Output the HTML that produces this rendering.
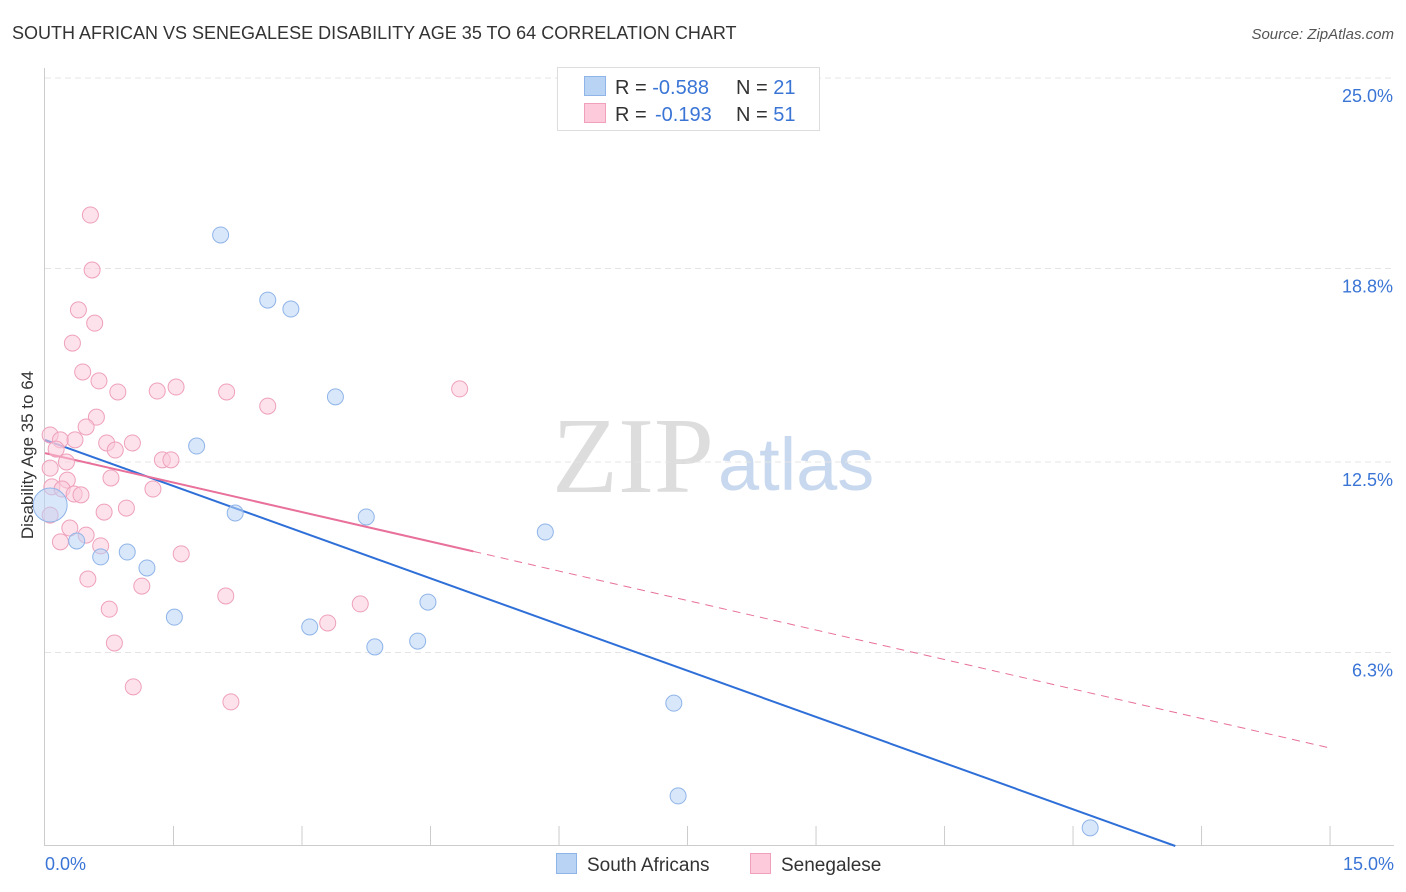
<!DOCTYPE html>
<html><head><meta charset="utf-8"><style>
body{margin:0;background:#fff;font-family:"Liberation Sans",sans-serif;}
svg{display:block}
</style></head><body>
<svg id="chart" width="1406" height="892" xmlns="http://www.w3.org/2000/svg">
<text x="12" y="39" font-size="18" fill="#333">SOUTH AFRICAN VS SENEGALESE DISABILITY AGE 35 TO 64 CORRELATION CHART</text>
<text x="1394" y="39" font-size="15" fill="#555" font-style="italic" text-anchor="end">Source: ZipAtlas.com</text>
<text x="714" y="492" font-size="108" fill="#ddd" text-anchor="end" font-family="Liberation Serif,serif">ZIP</text>
<text x="718" y="490" font-size="74" fill="#c8d8ee">atlas</text>
<g id="grid"></g><g id="axes"></g><g id="lines"></g><g id="pts"></g>
<text transform="translate(33,455) rotate(-90)" font-size="17" fill="#333" text-anchor="middle">Disability Age 35 to 64</text>
<g>
<rect x="557.5" y="67.5" width="262" height="63" fill="#fff" stroke="#ddd"/>
<rect x="584.5" y="76.5" width="21" height="19" fill="#b9d3f5" stroke="#8fb4e8"/>
<rect x="584.5" y="103.5" width="21" height="19" fill="#fccadb" stroke="#f0a0bb"/>
<text x="615" y="94" font-size="20" fill="#333">R = <tspan fill="#3a75d6">-0.588</tspan><tspan x="736">N = </tspan><tspan fill="#3a75d6">21</tspan></text>
<text x="615" y="121" font-size="20" fill="#333">R = <tspan x="655" fill="#3a75d6">-0.193</tspan><tspan x="736">N = </tspan><tspan fill="#3a75d6">51</tspan></text>
</g>
<g>
<rect x="556.5" y="853.5" width="20" height="20" fill="#b9d3f5" stroke="#8fb4e8"/>
<text x="587" y="871" font-size="19" fill="#333">South Africans</text>
<rect x="750.5" y="853.5" width="20" height="20" fill="#fccadb" stroke="#f0a0bb"/>
<text x="781" y="871" font-size="19" fill="#333">Senegalese</text>
</g>
</svg>
<script>
const yTicks=[25.0,18.8,12.5,6.3];
const yTickLabels=["25.0%","18.8%","12.5%","6.3%"];
const xTickLabels=["0.0%","15.0%"];
const blueX=[2.05,2.60,2.87,3.39,1.77,2.22,3.75,5.84,0.37,0.96,0.65,1.19,1.51,3.09,3.85,4.35,4.47,7.34,7.39,12.20,0.06];
const blueY=[19.89,17.77,17.48,14.62,13.02,10.84,10.71,10.22,9.93,9.57,9.41,9.05,7.45,7.13,6.48,6.67,7.94,4.65,1.63,0.59,11.10];
const pinkX=[0.53,0.55,0.39,0.58,0.32,0.44,0.63,0.85,1.31,1.53,2.12,2.60,4.84,0.60,0.48,0.06,0.18,0.35,0.72,1.02,0.82,0.13,0.25,1.37,1.47,0.06,0.77,0.26,0.08,0.20,0.34,0.42,1.26,0.95,0.69,0.06,0.29,0.48,0.18,0.65,1.59,0.50,1.13,2.11,0.75,3.68,3.30,0.81,1.03,2.17];
const pinkY=[20.54,18.75,17.45,17.02,16.37,15.43,15.14,14.78,14.81,14.94,14.78,14.32,14.88,13.96,13.64,13.38,13.22,13.22,13.12,13.12,12.89,12.92,12.50,12.57,12.57,12.30,11.98,11.91,11.69,11.62,11.46,11.43,11.62,11.00,10.87,10.77,10.35,10.12,9.90,9.77,9.51,8.69,8.46,8.14,7.71,7.88,7.26,6.61,5.18,4.69];
const blueTrend=[13.22,-1.81];
const pinkTrend=[12.79,3.19];
const pinkSolidEnd=5.0;
const NS="http://www.w3.org/2000/svg";
const xs=v=>45+v*85.67, ys=v=>462-(v-12.5)*30.72;
function mk(tag,attrs,parent){const e=document.createElementNS(NS,tag);for(const k in attrs)e.setAttribute(k,attrs[k]);document.getElementById(parent).appendChild(e);return e;}
yTicks.forEach((t,i)=>{
 const g=mk('line',{x1:45,x2:1394,y1:ys(t),y2:ys(t),stroke:'#e4e4e4','stroke-dasharray':'6,4'},'grid');
 
 
 const l=mk('text',{x:1393,y:ys(t)+24,'font-size':18,fill:'#3a75d6','text-anchor':'end'},'axes');
 l.textContent=yTickLabels[i];
 
 
});
mk('line',{x1:44.5,x2:44.5,y1:68,y2:846,stroke:'#ccc'},'axes');
mk('line',{x1:44,x2:1394,y1:845.5,y2:845.5,stroke:'#ccc'},'axes');
for(let i=1;i<=10;i++){const t=mk('line',{x1:xs(i*1.5),x2:xs(i*1.5),y1:826,y2:846,stroke:'#ccc'},'axes');
 
 }
[[0,45,'start'],[15,1394,'end']].forEach((a,i)=>{const l=mk('text',{x:a[1],y:870,'font-size':18,fill:'#3a75d6','text-anchor':a[2]},'axes');l.textContent=xTickLabels[i];
 
 });
const slopeB=(blueTrend[1]-blueTrend[0])/15, x0=-blueTrend[0]/slopeB;
const bl=mk('line',{x1:xs(0),y1:ys(blueTrend[0]),x2:xs(x0),y2:ys(0),stroke:'#2f6fd8','stroke-width':2},'lines');


const pf=v=>pinkTrend[0]+(pinkTrend[1]-pinkTrend[0])*v/15;
const pl=mk('line',{x1:xs(0),y1:ys(pf(0)),x2:xs(pinkSolidEnd),y2:ys(pf(pinkSolidEnd)),stroke:'#e8709a','stroke-width':2},'lines');


const pd=mk('line',{x1:xs(pinkSolidEnd),y1:ys(pf(pinkSolidEnd)),x2:xs(15),y2:ys(pf(15)),stroke:'#e8709a','stroke-width':1,'stroke-dasharray':'8,6'},'lines');


pinkX.forEach((x,i)=>{const c=mk('circle',{cx:xs(x),cy:ys(pinkY[i]),r:8,fill:'rgba(252,202,219,0.55)',stroke:'#eea0bb','stroke-width':1},'pts');
 
 });
blueX.forEach((x,i)=>{const big=i===blueX.length-1;const c=mk('circle',{cx:xs(x),cy:ys(blueY[i]),r:big?17:8,fill:'rgba(185,211,245,0.55)',stroke:'#8fb4e8','stroke-width':1},'pts');
 
 });
</script>
</body></html>
